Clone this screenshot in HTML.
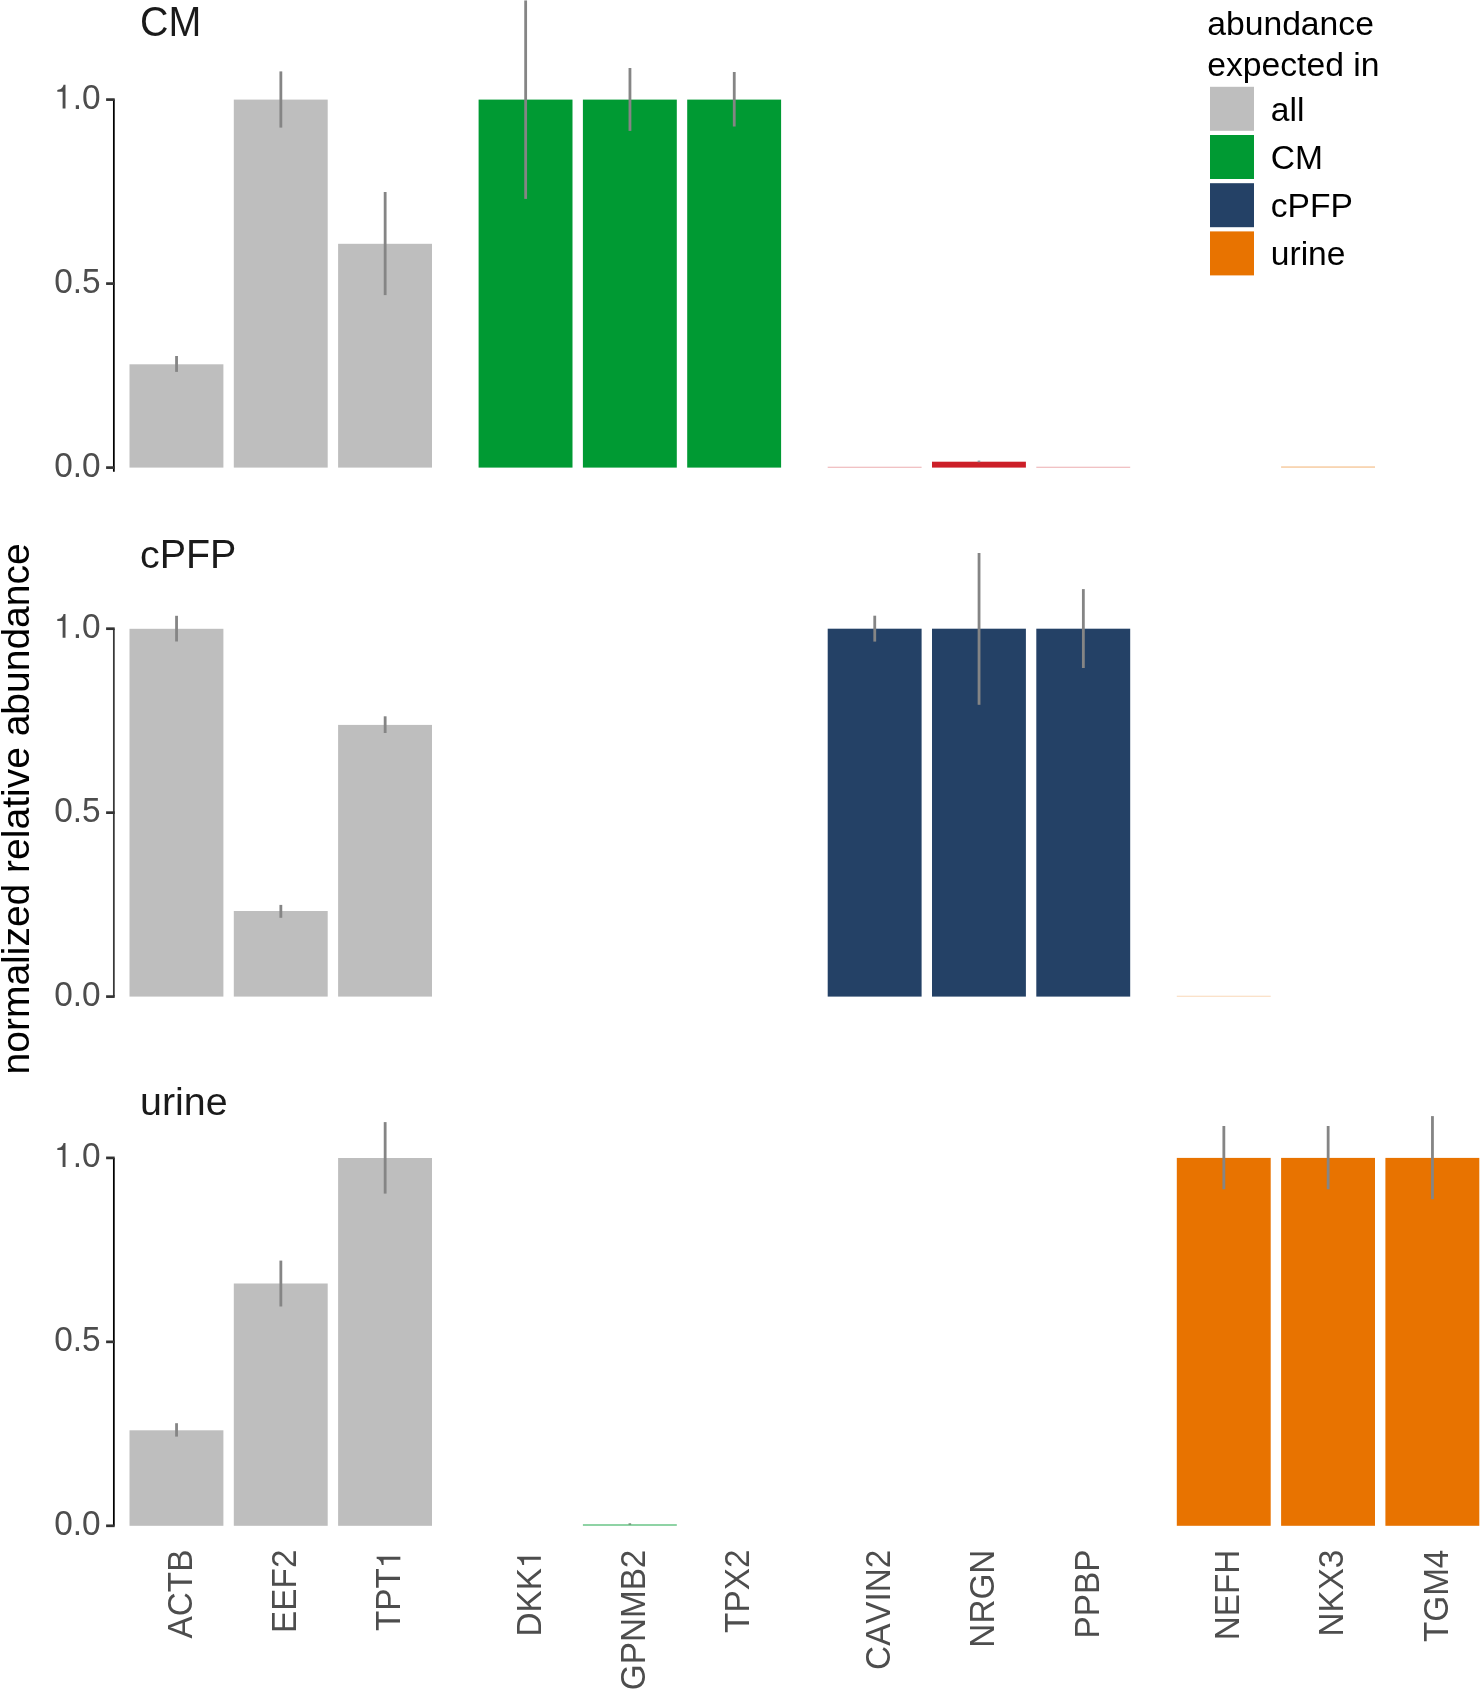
<!DOCTYPE html><html><head><meta charset="utf-8"><style>html,body{margin:0;padding:0;background:#fff;}svg{display:block;will-change:transform;}text{font-family:"Liberation Sans",sans-serif;font-kerning:none;font-feature-settings:"kern" 0;}</style></head><body>
<svg width="1480" height="1690" viewBox="0 0 1480 1690">
<defs><path id="one" d="M339 0L339 712L280 712C262 640 230 575 94 558L94 503L253 503L253 0Z"/></defs>
<rect x="0" y="0" width="1480" height="1690" fill="#fff"/>
<rect x="129.5" y="364.3" width="93.9" height="103.3" fill="#BEBEBE"/>
<rect x="233.8" y="99.6" width="93.9" height="368" fill="#BEBEBE"/>
<rect x="338.1" y="243.8" width="93.9" height="223.8" fill="#BEBEBE"/>
<rect x="478.6" y="99.6" width="93.9" height="368" fill="#009A33"/>
<rect x="582.9" y="99.6" width="93.9" height="368" fill="#009A33"/>
<rect x="687.2" y="99.6" width="93.9" height="368" fill="#009A33"/>
<rect x="129.5" y="628.8" width="93.9" height="367.8" fill="#BEBEBE"/>
<rect x="233.8" y="911" width="93.9" height="85.6" fill="#BEBEBE"/>
<rect x="338.1" y="724.9" width="93.9" height="271.7" fill="#BEBEBE"/>
<rect x="827.7" y="628.7" width="93.9" height="367.9" fill="#244166"/>
<rect x="932" y="628.7" width="93.9" height="367.9" fill="#244166"/>
<rect x="1036.3" y="628.7" width="93.9" height="367.9" fill="#244166"/>
<rect x="129.5" y="1430.3" width="93.9" height="95.5" fill="#BEBEBE"/>
<rect x="233.8" y="1283.5" width="93.9" height="242.3" fill="#BEBEBE"/>
<rect x="338.1" y="1158" width="93.9" height="367.8" fill="#BEBEBE"/>
<rect x="1176.8" y="1157.9" width="93.9" height="367.9" fill="#E87300"/>
<rect x="1281.1" y="1157.9" width="93.9" height="367.9" fill="#E87300"/>
<rect x="1385.4" y="1157.9" width="93.9" height="367.9" fill="#E87300"/>
<rect x="827.7" y="466.8" width="93.9" height="0.8" fill="#CC1F28" fill-opacity="0.45"/>
<rect x="1036.3" y="466.8" width="93.9" height="0.8" fill="#CC1F28" fill-opacity="0.45"/>
<rect x="932" y="461.7" width="93.9" height="5.9" fill="#CC1F28"/>
<rect x="1281.1" y="466.5" width="93.9" height="1.1" fill="#E87300" fill-opacity="0.5"/>
<rect x="1176.8" y="995.8" width="93.9" height="0.8" fill="#E87300" fill-opacity="0.35"/>
<rect x="582.9" y="1524.2" width="93.9" height="1.6" fill="#009A33" fill-opacity="0.55"/>
<rect x="175.15" y="356" width="2.8" height="15.9" fill="#858585"/>
<rect x="279.45" y="71.4" width="2.8" height="56.2" fill="#858585"/>
<rect x="383.75" y="192" width="2.8" height="103.1" fill="#858585"/>
<rect x="524.25" y="0.45" width="2.8" height="198.45" fill="#858585"/>
<rect x="628.55" y="68" width="2.8" height="62.9" fill="#858585"/>
<rect x="732.85" y="72" width="2.8" height="54.5" fill="#858585"/>
<rect x="175.15" y="615.8" width="2.8" height="25.7" fill="#858585"/>
<rect x="279.45" y="904.9" width="2.8" height="12.9" fill="#858585"/>
<rect x="383.75" y="716.3" width="2.8" height="16.7" fill="#858585"/>
<rect x="873.35" y="615.7" width="2.8" height="25.9" fill="#858585"/>
<rect x="977.65" y="553" width="2.8" height="151.8" fill="#858585"/>
<rect x="1081.95" y="589.1" width="2.8" height="78.9" fill="#858585"/>
<rect x="175.15" y="1423.2" width="2.8" height="13.4" fill="#858585"/>
<rect x="279.45" y="1260.6" width="2.8" height="45.9" fill="#858585"/>
<rect x="383.75" y="1122.1" width="2.8" height="71.5" fill="#858585"/>
<rect x="1222.45" y="1126" width="2.8" height="63.3" fill="#858585"/>
<rect x="1326.75" y="1126" width="2.8" height="63.3" fill="#858585"/>
<rect x="1431.05" y="1116.1" width="2.8" height="83.1" fill="#858585"/>
<rect x="977.65" y="460.6" width="2.6" height="1.6" fill="#8C9A9E"/>
<rect x="628.55" y="1523.4" width="2.6" height="1.2" fill="#5E7F62"/>
<path d="M113.85 99.6 L113.85 471.7" stroke="#000" stroke-width="1.75" fill="none" stroke-linecap="butt"/>
<line x1="106.1" y1="467.6" x2="114.69999999999999" y2="467.6" stroke="#333" stroke-width="2.7"/>
<g transform="translate(54.17,476.6)"><text x="0" y="0" font-size="33.4" fill="#4D4D4D" transform="scale(1,1.03)">0.0</text></g>
<line x1="106.1" y1="283.6" x2="114.69999999999999" y2="283.6" stroke="#333" stroke-width="2.7"/>
<g transform="translate(54.17,292.6)"><text x="0" y="0" font-size="33.4" fill="#4D4D4D" transform="scale(1,1.03)">0.5</text></g>
<line x1="106.1" y1="99.6" x2="114.69999999999999" y2="99.6" stroke="#333" stroke-width="2.7"/>
<g transform="translate(54.17,108.6)"><use href="#one" fill="#4D4D4D" transform="translate(0,0) scale(0.033400,-0.033400)"/><text x="18.58" y="0" font-size="33.4" fill="#4D4D4D" transform="scale(1,1.03)">.0</text></g>
<path d="M113.85 628.7 L113.85 996.6" stroke="#383838" stroke-width="1.75" fill="none" stroke-linecap="butt"/>
<line x1="106.1" y1="996.6" x2="114.69999999999999" y2="996.6" stroke="#333" stroke-width="2.7"/>
<g transform="translate(54.17,1005.6)"><text x="0" y="0" font-size="33.4" fill="#4D4D4D" transform="scale(1,1.03)">0.0</text></g>
<line x1="106.1" y1="812.65" x2="114.69999999999999" y2="812.65" stroke="#333" stroke-width="2.7"/>
<g transform="translate(54.17,821.65)"><text x="0" y="0" font-size="33.4" fill="#4D4D4D" transform="scale(1,1.03)">0.5</text></g>
<line x1="106.1" y1="628.7" x2="114.69999999999999" y2="628.7" stroke="#333" stroke-width="2.7"/>
<g transform="translate(54.17,637.7)"><use href="#one" fill="#4D4D4D" transform="translate(0,0) scale(0.033400,-0.033400)"/><text x="18.58" y="0" font-size="33.4" fill="#4D4D4D" transform="scale(1,1.03)">.0</text></g>
<path d="M113.85 1157.9 L113.85 1525.8" stroke="#000" stroke-width="1.75" fill="none" stroke-linecap="butt"/>
<line x1="106.1" y1="1525.8" x2="114.69999999999999" y2="1525.8" stroke="#333" stroke-width="2.7"/>
<g transform="translate(54.17,1534.8)"><text x="0" y="0" font-size="33.4" fill="#4D4D4D" transform="scale(1,1.03)">0.0</text></g>
<line x1="106.1" y1="1341.85" x2="114.69999999999999" y2="1341.85" stroke="#333" stroke-width="2.7"/>
<g transform="translate(54.17,1350.85)"><text x="0" y="0" font-size="33.4" fill="#4D4D4D" transform="scale(1,1.03)">0.5</text></g>
<line x1="106.1" y1="1157.9" x2="114.69999999999999" y2="1157.9" stroke="#333" stroke-width="2.7"/>
<g transform="translate(54.17,1166.9)"><use href="#one" fill="#4D4D4D" transform="translate(0,0) scale(0.033400,-0.033400)"/><text x="18.58" y="0" font-size="33.4" fill="#4D4D4D" transform="scale(1,1.03)">.0</text></g>
<text x="140.1" y="35.5" font-size="39.4" fill="#1A1A1A" transform="translate(0,35.5) scale(1,1.06) translate(0,-35.5)">CM</text>
<text x="140.0" y="567.7" font-size="39.4" fill="#1A1A1A">c</text>
<text x="159.7" y="567.7" font-size="39.4" fill="#1A1A1A" transform="translate(0,567.7) scale(1,1.02) translate(0,-567.7)">PFP</text>
<text x="140.0" y="1115.1" font-size="39.4" fill="#1A1A1A">urine</text>
<text transform="translate(28.6,808.9) rotate(-90)" font-size="39" fill="#000" text-anchor="middle">normalized relative abundance</text>
<g transform="translate(191.75,1549.6) rotate(-90) translate(-88.81,0)"><text x="0" y="0" font-size="33.3" fill="#4D4D4D" transform="scale(1,1.04)">ACTB</text></g>
<g transform="translate(296.05,1549.6) rotate(-90) translate(-83.28,0)"><text x="0" y="0" font-size="33.3" fill="#4D4D4D" transform="scale(1,1.04)">EEF2</text></g>
<g transform="translate(400.35,1549.6) rotate(-90) translate(-81.41,0)"><text x="0" y="0" font-size="33.3" fill="#4D4D4D" transform="scale(1,1.04)">TPT</text><use href="#one" fill="#4D4D4D" transform="translate(62.89,0) scale(0.033300,-0.033300)"/></g>
<g transform="translate(540.85,1549.6) rotate(-90) translate(-86.99,0)"><text x="0" y="0" font-size="33.3" fill="#4D4D4D" transform="scale(1,1.04)">DKK</text><use href="#one" fill="#4D4D4D" transform="translate(68.47,0) scale(0.033300,-0.033300)"/></g>
<g transform="translate(645.15,1549.6) rotate(-90) translate(-140.63,0)"><text x="0" y="0" font-size="33.3" fill="#4D4D4D" transform="scale(1,1.04)">GPNMB2</text></g>
<g transform="translate(749.45,1549.6) rotate(-90) translate(-83.28,0)"><text x="0" y="0" font-size="33.3" fill="#4D4D4D" transform="scale(1,1.04)">TPX2</text></g>
<g transform="translate(889.95,1549.6) rotate(-90) translate(-120.29,0)"><text x="0" y="0" font-size="33.3" fill="#4D4D4D" transform="scale(1,1.04)">CAVIN2</text></g>
<g transform="translate(994.25,1549.6) rotate(-90) translate(-98.05,0)"><text x="0" y="0" font-size="33.3" fill="#4D4D4D" transform="scale(1,1.04)">NRGN</text></g>
<g transform="translate(1098.55,1549.6) rotate(-90) translate(-88.84,0)"><text x="0" y="0" font-size="33.3" fill="#4D4D4D" transform="scale(1,1.04)">PPBP</text></g>
<g transform="translate(1239.05,1549.6) rotate(-90) translate(-90.65,0)"><text x="0" y="0" font-size="33.3" fill="#4D4D4D" transform="scale(1,1.04)">NEFH</text></g>
<g transform="translate(1343.35,1549.6) rotate(-90) translate(-86.99,0)"><text x="0" y="0" font-size="33.3" fill="#4D4D4D" transform="scale(1,1.04)">NKX3</text></g>
<g transform="translate(1447.65,1549.6) rotate(-90) translate(-92.5,0)"><text x="0" y="0" font-size="33.3" fill="#4D4D4D" transform="scale(1,1.04)">TGM4</text></g>
<text x="1207.2" y="35.4" font-size="33.7" fill="#000">abundance</text>
<text x="1207.2" y="75.5" font-size="33.7" fill="#000">expected in</text>
<rect x="1210" y="86.8" width="44" height="44" fill="#BEBEBE"/>
<text x="1270.8" y="120.7" font-size="33.6" fill="#000">all</text>
<rect x="1210" y="135" width="44" height="44" fill="#009A33"/>
<text x="1270.8" y="168.85" font-size="33.6" fill="#000">CM</text>
<rect x="1210" y="183.2" width="44" height="44" fill="#244166"/>
<text x="1270.8" y="217" font-size="33.6" fill="#000">cPFP</text>
<rect x="1210" y="231.4" width="44" height="44" fill="#E87300"/>
<text x="1270.8" y="265.15" font-size="33.6" fill="#000">urine</text>
</svg></body></html>
